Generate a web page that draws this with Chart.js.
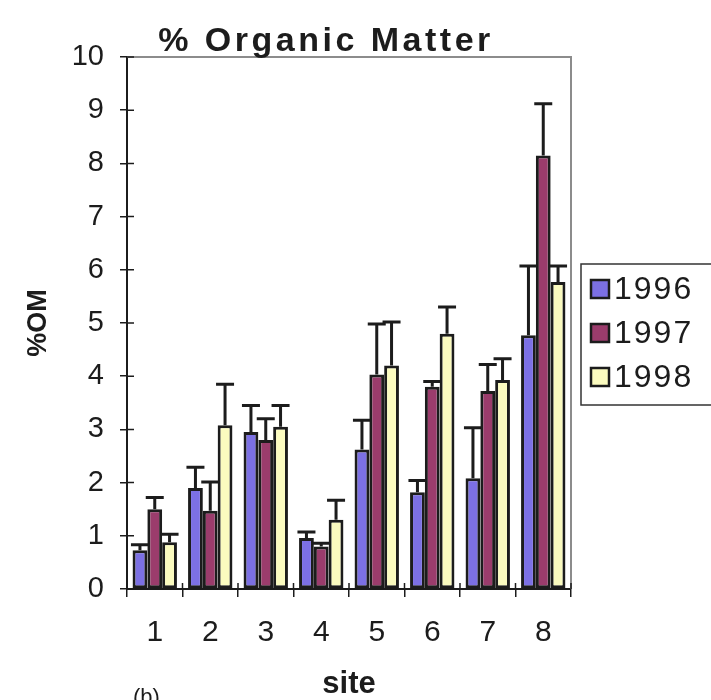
<!DOCTYPE html>
<html>
<head>
<meta charset="utf-8">
<script src="https://cdn.jsdelivr.net/npm/chart.js@4.4.0/dist/chart.umd.min.js"></script>
<style>
  html, body { margin: 0; padding: 0; background: #fff; }
  #wrap { width: 711px; height: 700px; }
</style>
</head>
<body>
<div id="wrap"><canvas id="om" width="711" height="700"></canvas></div>
<script>
const sites = ["1", "2", "3", "4", "5", "6", "7", "8"];
const years = ["1996", "1997", "1998"];

// mean %OM per site
const om1996 = [0.73, 1.90, 2.95, 0.96, 2.62, 1.82, 2.08, 4.77];
const om1997 = [1.50, 1.47, 2.80, 0.80, 4.03, 3.80, 3.72, 8.15];
const om1998 = [0.88, 3.08, 3.05, 1.30, 4.20, 4.80, 3.93, 5.77];

// upper error bar length
const err1996 = [0.10, 0.39, 0.50, 0.11, 0.55, 0.22, 0.95, 1.30];
const err1997 = [0.22, 0.54, 0.40, 0.06, 0.95, 0.10, 0.50, 0.97];
const err1998 = [0.15, 0.77, 0.40, 0.37, 0.82, 0.50, 0.40, 0.30];

const yTicks = [0, 1, 2, 3, 4, 5, 6, 7, 8, 9, 10];

const COLORS = {
  c1996: "#7c70e4",
  c1997: "#9b3c6c",
  c1998: "#fbfbbf",
  ink: "#1c1c1c",
  frame: "#8c8c8c",
};

Chart.defaults.font.family = '"Liberation Sans", Arial, Helvetica, sans-serif';
Chart.defaults.color = COLORS.ink;

const errors = [err1996, err1997, err1998];

// error bars, plot frame, inner tick marks, title and legend
const decorations = {
  id: "decorations",
  afterDatasetsDraw(chart) {
    const { ctx, chartArea: a, scales: { x, y } } = chart;
    ctx.save();

    // grey frame on top and right
    ctx.strokeStyle = COLORS.frame;
    ctx.lineWidth = 2;
    ctx.beginPath();
    ctx.moveTo(a.left, a.top);
    ctx.lineTo(a.right, a.top);
    ctx.lineTo(a.right, a.bottom);
    ctx.stroke();

    // inward half of the cross tick marks
    ctx.strokeStyle = COLORS.ink;
    ctx.lineWidth = 1.5;
    ctx.beginPath();
    yTicks.forEach(v => {
      const py = y.getPixelForValue(v);
      ctx.moveTo(a.left, py);
      ctx.lineTo(a.left + 7, py);
    });
    for (let i = 0; i <= sites.length; i++) {
      const px = x.getPixelForValue(i - 0.5);
      ctx.moveTo(px, a.bottom);
      ctx.lineTo(px, a.bottom - 6);
    }
    ctx.stroke();

    // upper error bars
    ctx.strokeStyle = COLORS.ink;
    ctx.lineWidth = 3;
    chart.data.datasets.forEach((ds, di) => {
      const meta = chart.getDatasetMeta(di);
      meta.data.forEach((bar, i) => {
        const top = y.getPixelForValue(ds.data[i]);
        const cap = y.getPixelForValue(ds.data[i] + errors[di][i]);
        ctx.beginPath();
        ctx.moveTo(bar.x, top);
        ctx.lineTo(bar.x, cap);
        ctx.moveTo(bar.x - 9, cap);
        ctx.lineTo(bar.x + 9, cap);
        ctx.stroke();
      });
    });

    // title
    ctx.fillStyle = COLORS.ink;
    ctx.font = 'bold 34px "Liberation Sans", Arial, sans-serif';
    ctx.textAlign = "center";
    ctx.textBaseline = "alphabetic";
    ctx.letterSpacing = "3.5px";
    ctx.fillText("% Organic Matter", 326, 51);
    ctx.letterSpacing = "0px";

    // legend box, partly off the right edge
    ctx.strokeStyle = "#333";
    ctx.lineWidth = 1.5;
    ctx.strokeRect(581, 264, 150, 141);
    ctx.font = '32px "Liberation Sans", Arial, sans-serif';
    ctx.textAlign = "left";
    ctx.textBaseline = "middle";
    chart.data.datasets.forEach((ds, di) => {
      const cy = 289 + di * 44;
      ctx.fillStyle = ds.backgroundColor;
      ctx.fillRect(591, cy - 9, 18, 18);
      ctx.strokeStyle = COLORS.ink;
      ctx.lineWidth = 2.5;
      ctx.strokeRect(591, cy - 9, 18, 18);
      ctx.fillStyle = COLORS.ink;
      ctx.letterSpacing = "2px";
      ctx.fillText(ds.label, 614, cy + 1);
      ctx.letterSpacing = "0px";
    });

    // panel letter, clipped by the bottom edge
    ctx.font = '22px "Liberation Sans", Arial, sans-serif';
    ctx.textBaseline = "alphabetic";
    ctx.fillText("(b)", 133, 704);

    ctx.restore();
  },
};

const series = [om1996, om1997, om1998];
const fills = [COLORS.c1996, COLORS.c1997, COLORS.c1998];

new Chart(document.getElementById("om"), {
  type: "bar",
  data: {
    labels: sites,
    datasets: years.map((yr, i) => ({
      label: yr,
      data: series[i],
      backgroundColor: fills[i],
      borderColor: COLORS.ink,
      borderWidth: 3,
      borderSkipped: false,
      barPercentage: 1.0,
      categoryPercentage: 0.8,
    })),
  },
  options: {
    responsive: false,
    animation: false,
    layout: { padding: { left: 0, top: 57, right: 140, bottom: 0 } },
    plugins: {
      legend: { display: false },
      title: { display: false },
      tooltip: { enabled: false },
    },
    scales: {
      x: {
        afterFit: s => { s.height = 111; },
        grid: { display: true, offset: true, drawOnChartArea: false, drawTicks: true, tickLength: 8, color: COLORS.ink, lineWidth: 1.5 },
        border: { display: true, color: COLORS.ink, width: 2 },
        ticks: { font: { size: 30 }, padding: 18, color: COLORS.ink },
        title: { display: true, text: "site", font: { size: 31, weight: "bold", lineHeight: 1 }, padding: { top: 0, bottom: 0 }, color: COLORS.ink },
      },
      y: {
        afterFit: s => { s.width = 127; },
        min: 0,
        max: 10,
        afterBuildTicks: s => { s.ticks = yTicks.map(v => ({ value: v })); },
        grid: { display: true, drawOnChartArea: false, drawTicks: true, tickLength: 7, color: COLORS.ink, lineWidth: 1.5 },
        border: { display: true, color: COLORS.ink, width: 2 },
        ticks: { font: { size: 29 }, padding: 16, color: COLORS.ink },
        title: { display: true, text: "%OM", font: { size: 27, weight: "bold" }, padding: { top: 22, bottom: 0 }, color: COLORS.ink },
      },
    },
  },
  plugins: [decorations],
});
</script>
</body>
</html>
